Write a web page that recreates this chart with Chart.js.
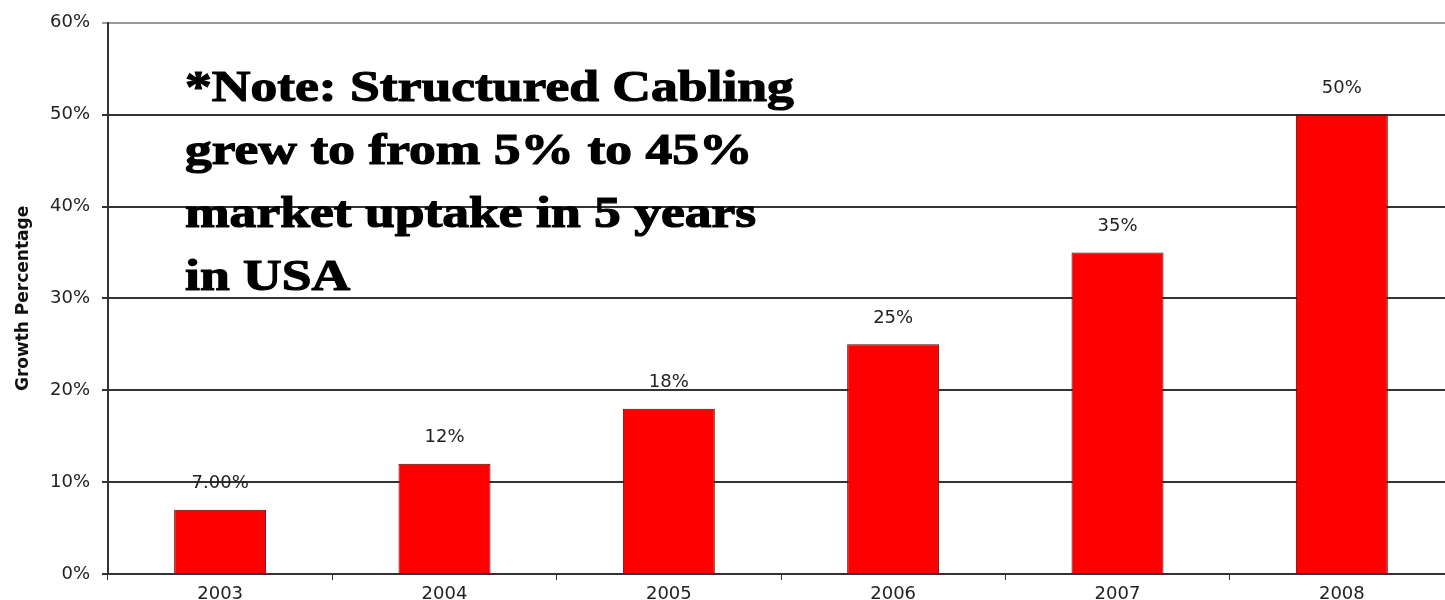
<!DOCTYPE html>
<html>
<head>
<meta charset="utf-8">
<script src="https://cdn.jsdelivr.net/npm/chart.js@4.4.1/dist/chart.umd.min.js"></script>
<style>
  html, body { margin: 0; padding: 0; background: #fff; overflow: hidden; }
  #wrap { position: relative; width: 1460px; height: 600px; }
</style>
</head>
<body>
<div id="wrap"><canvas id="growthChart"></canvas></div>
<script>
// market uptake per year, in percent
var years = ["2003", "2004", "2005", "2006", "2007", "2008"];
var growth = [7, 12, 18, 25, 35, 50];
// decimals shown in the value label above each bar
var labelDecimals = [2, 0, 0, 0, 0, 0];
var yTicks = [0, 10, 20, 30, 40, 50, 60];
var noteLines = [
    "*Note: Structured Cabling",
    "grew to from 5% to 45%",
    "market uptake in 5 years",
    "in USA"
];

var sansFont = "'DejaVu Sans', Verdana, sans-serif";

// value labels over the bars + the note block in the upper left
var overlayPlugin = {
    id: 'overlay',
    afterDatasetsDraw: function(chart) {
        var ctx = chart.ctx;
        var meta = chart.getDatasetMeta(0);
        ctx.save();
        ctx.font = "18px " + sansFont;
        ctx.fillStyle = "#222";
        ctx.textAlign = "center";
        ctx.textBaseline = "middle";
        for (var i = 0; i < meta.data.length; i++) {
            var bar = meta.data[i];
            var txt = growth[i].toFixed(labelDecimals[i]) + "%";
            ctx.fillText(txt, bar.x, bar.y - 26);
        }

        // note is set in a heavy bold serif, stretched sideways
        ctx.font = "bold 45px 'Liberation Serif', 'Times New Roman', serif";
        ctx.fillStyle = "#000";
        ctx.strokeStyle = "#000";
        ctx.lineWidth = 1.2;
        ctx.textAlign = "left";
        ctx.textBaseline = "alphabetic";
        ctx.translate(185, 0);
        ctx.scale(1.19, 1);
        for (var j = 0; j < noteLines.length; j++) {
            ctx.fillText(noteLines[j], 0, 101 + j * 63);
            ctx.strokeText(noteLines[j], 0, 101 + j * 63);
        }
        ctx.restore();
    }
};

var growthChart = new Chart(document.getElementById("growthChart"), {
    type: 'bar',
    data: {
        labels: years,
        datasets: [{
            data: growth,
            backgroundColor: "#ff0000",
            borderColor: "#5a0000",
            borderWidth: 1,
            categoryPercentage: 1.0,
            barPercentage: 0.41
        }]
    },
    options: {
        responsive: true,
        maintainAspectRatio: false,
        animation: false,
        layout: {
            padding: { left: 0, right: 6, top: 22, bottom: 0 }
        },
        plugins: {
            legend: { display: false },
            tooltip: { enabled: false }
        },
        scales: {
            x: {
                offset: true,
                border: { color: "#333", width: 2 },
                grid: {
                    offset: true,
                    drawOnChartArea: false,
                    drawTicks: true,
                    tickLength: 6,
                    color: "#333",
                    lineWidth: 1
                },
                ticks: {
                    padding: 4,
                    color: "#222",
                    font: { family: sansFont, size: 18 },
                    maxRotation: 0
                },
                afterFit: function(scale) { scale.height = 26; }
            },
            y: {
                min: 0,
                max: 60,
                afterBuildTicks: function(scale) {
                    scale.ticks = yTicks.map(function(v) { return { value: v }; });
                },
                border: { color: "#333", width: 2 },
                grid: {
                    color: function(c) { return c.tick && c.tick.value === 60 ? "#999" : "#333"; },
                    lineWidth: 2,
                    tickLength: 6
                },
                ticks: {
                    padding: 12,
                    color: "#222",
                    font: { family: sansFont, size: 18 },
                    callback: function(v) { return v + "%"; }
                },
                title: {
                    display: true,
                    text: "Growth Percentage",
                    color: "#111",
                    font: { family: sansFont, size: 17, weight: "bold" },
                    padding: { top: 13, bottom: 0 }
                },
                afterFit: function(scale) { scale.width = 108; }
            }
        }
    },
    plugins: [overlayPlugin]
});
</script>
</body>
</html>
